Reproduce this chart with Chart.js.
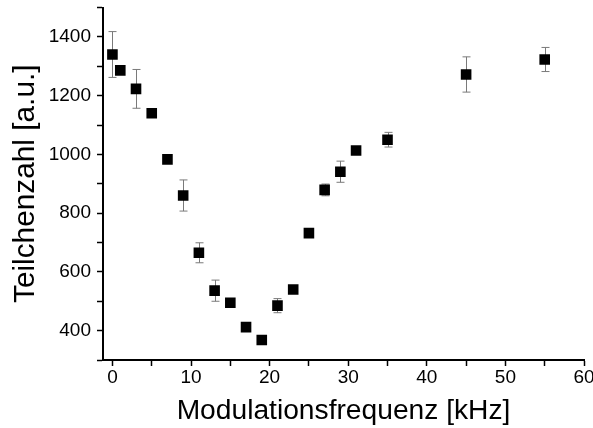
<!DOCTYPE html>
<html>
<head>
<meta charset="utf-8">
<script src="https://cdn.jsdelivr.net/npm/chart.js@4"></script>
<style>
  html, body { margin: 0; padding: 0; background: #fff; }
  #wrap { width: 593px; height: 428px; }
</style>
</head>
<body>
<div id="wrap"><canvas id="freqChart" width="593" height="428"></canvas></div>
<script>
// data
var freq = [0, 1, 3, 5, 7, 9, 11, 13, 15, 17, 19, 21, 23, 25, 27, 29, 31, 35, 45, 55];
var counts = [1340, 1286, 1223, 1140, 983, 860, 665, 536, 495, 412, 368, 485, 540, 732, 879, 941, 1013, 1050, 1272, 1323];
var errors = [78, 12, 66, 12, 10, 53, 34, 36, 12, 12, 10, 24, 12, 12, 20, 36, 10, 25, 60, 41];

var xTickLabels = [0, 10, 20, 30, 40, 50, 60];
var yTickLabels = [400, 600, 800, 1000, 1200, 1400];

var points = freq.map(function (f, i) {
    return { x: f, y: counts[i], err: errors[i] };
});

// vertical error bars with caps, drawn under the markers
var errorBars = {
    id: 'errorBars',
    beforeDatasetsDraw: function (chart) {
        var ctx = chart.ctx;
        var xs = chart.scales.x, ys = chart.scales.y;
        ctx.save();
        ctx.strokeStyle = '#7a7a7a';
        ctx.lineWidth = 1;
        chart.data.datasets[0].data.forEach(function (p) {
            var px = Math.round(xs.getPixelForValue(p.x)) + 0.5;
            var top = ys.getPixelForValue(p.y + p.err);
            var bot = ys.getPixelForValue(p.y - p.err);
            ctx.beginPath();
            ctx.moveTo(px, top); ctx.lineTo(px, bot);
            ctx.moveTo(px - 4, top); ctx.lineTo(px + 4, top);
            ctx.moveTo(px - 4, bot); ctx.lineTo(px + 4, bot);
            ctx.stroke();
        });
        ctx.restore();
    }
};

var font = "'Liberation Sans', Arial, sans-serif";

new Chart(document.getElementById('freqChart').getContext('2d'), {
    type: 'scatter',
    data: {
        datasets: [{
            label: 'Teilchenzahl',
            data: points,
            pointStyle: 'rect',
            pointRadius: 7.5,
            pointHoverRadius: 7.5,
            backgroundColor: '#000',
            borderColor: '#000',
            borderWidth: 0
        }]
    },
    options: {
        responsive: false,
        animation: false,
        layout: { padding: { top: 6, right: 9, left: 0, bottom: 0 } },
        plugins: { legend: { display: false }, tooltip: { enabled: false } },
        scales: {
            x: {
                type: 'linear',
                min: -1.2,
                max: 60,
                border: { color: '#000', width: 2 },
                grid: { drawOnChartArea: false, drawTicks: true, tickLength: 6, tickColor: '#000', tickWidth: 1.5 },
                ticks: {
                    stepSize: 5,
                    includeBounds: false,
                    autoSkip: false,
                    maxRotation: 0,
                    color: '#000',
                    padding: 0,
                    font: { family: font, size: 19 },
                    callback: function (v) { return xTickLabels.indexOf(v) >= 0 ? String(v) : ''; }
                },
                title: {
                    display: true,
                    text: 'Modulationsfrequenz [kHz]',
                    color: '#000',
                    font: { family: font, size: 28.2 },
                    padding: { top: 0, bottom: 0 }
                },
                afterFit: function (s) { s.height = 68; s.paddingLeft = 0; s.paddingRight = 0; }
            },
            y: {
                type: 'linear',
                min: 300,
                max: 1500,
                border: { color: '#000', width: 2 },
                grid: { drawOnChartArea: false, drawTicks: true, tickLength: 6, tickColor: '#000', tickWidth: 1.5 },
                ticks: {
                    stepSize: 100,
                    autoSkip: false,
                    color: '#000',
                    padding: 6,
                    font: { family: font, size: 19 },
                    callback: function (v) { return yTickLabels.indexOf(v) >= 0 ? String(v) : ''; }
                },
                title: {
                    display: true,
                    text: 'Teilchenzahl [a.u.]',
                    color: '#000',
                    font: { family: font, size: 29.8 },
                    padding: { top: 8, bottom: 0 }
                },
                afterFit: function (s) { s.width = 103; s.paddingTop = 0; s.paddingBottom = 0; }
            }
        }
    },
    plugins: [errorBars]
});
</script>
</body>
</html>
